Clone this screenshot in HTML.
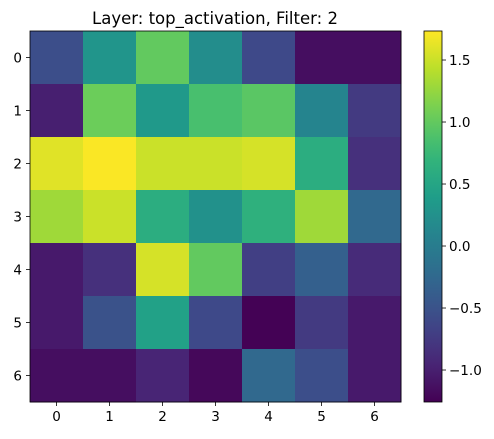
<!DOCTYPE html>
<html><head><meta charset="utf-8"><style>
body{margin:0;background:#fff;font-family:"DejaVu Sans",sans-serif}
svg text{font-family:"DejaVu Sans",sans-serif;fill:#000}
</style></head><body>
<svg id="chart" width="494" height="435">
<text x="215" y="24" font-size="16.5" text-anchor="middle">Layer: top_activation, Filter: 2</text>
<g id="cells"></g>
<g id="axes"></g>
<defs><linearGradient id="cg" x1="0" y1="1" x2="0" y2="0"></linearGradient></defs>
<g id="cbar"></g>
</svg>
<script>
const rowLabels=["0","1","2","3","4","5","6"];
const colLabels=["0","1","2","3","4","5","6"];
const values=[
[-0.55,0.3,1.0,0.2,-0.6,-1.15,-1.15],
[-1.0,1.05,0.35,0.85,0.95,0.1,-0.75],
[1.6,1.72,1.5,1.5,1.55,0.6,-0.85],
[1.3,1.5,0.6,0.25,0.65,1.3,-0.25],
[-1.05,-0.85,1.55,1.0,-0.7,-0.35,-0.9],
[-1.05,-0.5,0.45,-0.6,-1.25,-0.75,-1.05],
[-1.15,-1.15,-0.95,-1.2,-0.25,-0.55,-1.05]];
const cbTicks=[-1.0,-0.5,0.0,0.5,1.0,1.5];
const vmin=-1.258,vmax=1.734;
const stops=[[68,1,84],[72,40,120],[62,74,137],[49,104,142],[38,130,142],[31,158,137],[53,183,121],[110,206,88],[181,222,43],[253,231,37]];
function viridis(t){t=Math.max(0,Math.min(1,t));const p=t*(stops.length-1),i=Math.min(Math.floor(p),stops.length-2),f=p-i;
const c=stops[i].map((v,k)=>Math.round(v+(stops[i+1][k]-v)*f));return `rgb(${c})`;}
const NS="http://www.w3.org/2000/svg";
function mk(tag,attrs,parent){const e=document.createElementNS(NS,tag);for(const k in attrs)e.setAttribute(k,attrs[k]);parent.appendChild(e);return e;}
const L=30,T=31,W=371,H=371,n=7,cw=W/n,ch=H/n;
const xPos=j=>L+j*cw, yPos=i=>T+i*ch;
const cells=document.getElementById('cells');
values.forEach((row,i)=>row.forEach((v,j)=>{
 const r=mk('rect',{x:xPos(j),y:yPos(i),width:cw+0.5,height:ch+0.5,fill:viridis((v-vmin)/(vmax-vmin))},cells);
 
 
}));
const ax=document.getElementById('axes');
mk('rect',{x:L,y:T,width:W,height:H,fill:'none',stroke:'#000','stroke-width':0.8},ax);
colLabels.forEach((l,j)=>{const x=xPos(j)+cw/2;mk('line',{x1:x,x2:x,y1:T+H,y2:T+H+4,stroke:'#000','stroke-width':0.8},ax);
 const t=mk('text',{x:x,y:T+H+19,'font-size':13.5,'text-anchor':'middle'},ax);t.textContent=l;
 });
rowLabels.forEach((l,i)=>{const y=yPos(i)+ch/2;mk('line',{x1:L-4,x2:L,y1:y,y2:y,stroke:'#000','stroke-width':0.8},ax);
 const t=mk('text',{x:L-8,y:y+5,'font-size':13.5,'text-anchor':'end'},ax);t.textContent=l;
 });
const g=document.getElementById('cg');
for(let k=0;k<=20;k++)mk('stop',{offset:(k/20),'stop-color':viridis(k/20)},g);
const cb=document.getElementById('cbar');const CX=424,CW=18;
mk('rect',{x:CX,y:T,width:CW,height:H,fill:'url(#cg)',stroke:'#000','stroke-width':0.8},cb);
const cy=v=>T+H-(v-vmin)/(vmax-vmin)*H;
cbTicks.forEach(v=>{const y=cy(v);mk('line',{x1:CX+CW,x2:CX+CW+4,y1:y,y2:y,stroke:'#000','stroke-width':0.8},cb);
 const t=mk('text',{x:CX+CW+7,y:y+5,'font-size':13.5},cb);t.textContent=(v<0?'\u2212':'')+Math.abs(v).toFixed(1);
 });
</script>
</body></html>
